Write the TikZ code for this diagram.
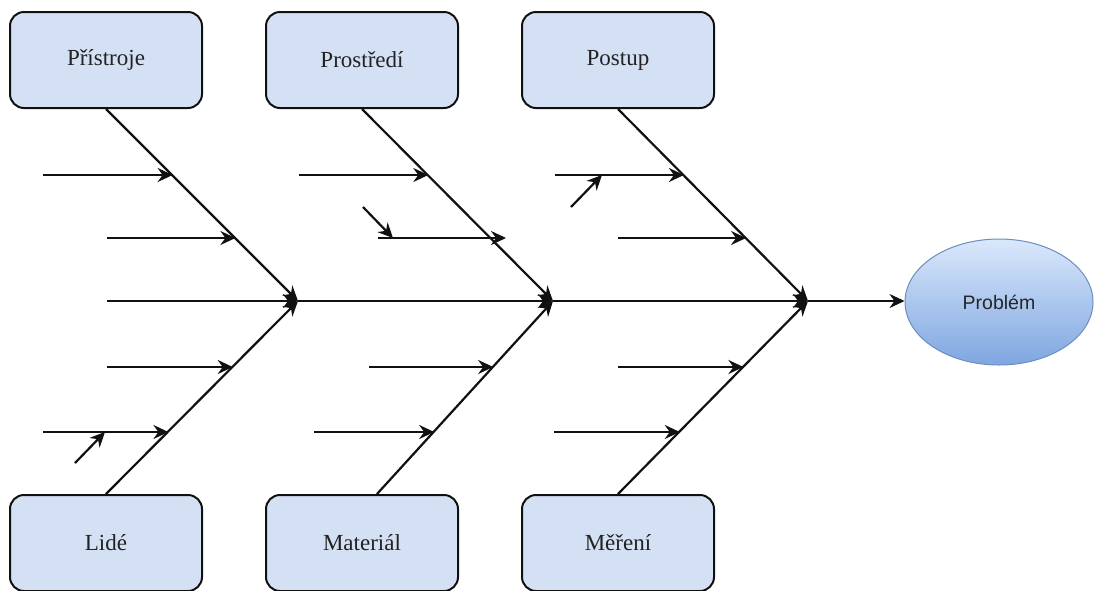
\documentclass[tikz,border=0pt]{standalone}
\usepackage{fontspec}
\setmainfont{Liberation Serif}
\newfontfamily\probfont{Liberation Sans}
\usetikzlibrary{arrows.meta,shapes.geometric,calc}
\definecolor{boxfill}{HTML}{D4E1F5}
\definecolor{ellstroke}{HTML}{6C8EBF}
\definecolor{elltop}{HTML}{DAE8FC}
\definecolor{ellbot}{HTML}{7EA6E0}
\definecolor{inkline}{HTML}{111111}
\definecolor{txt}{HTML}{222222}
\begin{document}
\begin{tikzpicture}[x=1pt,y=-1pt,
  >={Stealth[length=15pt,width=14pt,inset=5pt]},
  cause/.style={draw=inkline, line width=2pt, fill=boxfill, rounded corners=14pt,
    minimum width=192pt, minimum height=96pt, inner sep=0pt,
    font=\fontsize{23}{26}\selectfont, text=txt},
  problem/.style={ellipse, draw=ellstroke, line width=1pt, top color=elltop,
    bottom color=ellbot, minimum width=188pt, minimum height=126pt, inner sep=0pt,
    font=\probfont\fontsize{19.5}{22}\selectfont, text=black!85},
  bone/.style={draw=inkline, line width=2.2pt, ->},
  rib/.style={draw=inkline, line width=2.2pt, ->},
  twig/.style={draw=inkline, line width=2.2pt, ->}]
\useasboundingbox (0,0) rectangle (1094,590);

% category boxes
\node[cause] (pri) at (106,60) {Přístroje};
\node[cause] (pro) at (362,60) {Prostředí};
\node[cause] (pos) at (618,60) {Postup};
\node[cause] (lid) at (106,543) {Lidé};
\node[cause] (mat) at (362,543) {Materiál};
\node[cause] (mer) at (618,543) {Měření};

% effect
\node[problem] (prob) at (999,302) {Problém};

% spine junctions
\coordinate (S0) at (107,301);
\coordinate (J1) at (298,301);
\coordinate (J2) at (553,301);
\coordinate (J3) at (808,301);

% spine
\draw[bone] (S0) -- (J1);
\draw[bone] (J1) -- (J2);
\draw[bone] (J2) -- (J3);
\draw[bone] (J3) -- (J3 -| prob.west);

% main bones
\draw[bone] (pri.south) -- (J1);
\draw[bone] (lid.north) -- (J1);
\draw[bone] (pro.south) -- (J2);
\draw[bone] ([xshift=15pt]mat.north) -- (J2);
\draw[bone] (pos.south) -- (J3);
\draw[bone] (mer.north) -- (J3);

% points on the bones where ribs meet them
\coordinate (b1a) at ($(pri.south)!0.347!(J1)$);
\coordinate (b1b) at ($(pri.south)!0.674!(J1)$);
\coordinate (b1c) at ($(lid.north)!0.66!(J1)$);
\coordinate (b1d) at ($(lid.north)!0.325!(J1)$);
\coordinate (b2a) at ($(pro.south)!0.347!(J2)$);
\coordinate (b2b) at (506,238);
\coordinate (b2c) at ($([xshift=15pt]mat.north)!0.66!(J2)$);
\coordinate (b2d) at ($([xshift=15pt]mat.north)!0.325!(J2)$);
\coordinate (b3a) at ($(pos.south)!0.347!(J3)$);
\coordinate (b3b) at ($(pos.south)!0.674!(J3)$);
\coordinate (b3c) at ($(mer.north)!0.66!(J3)$);
\coordinate (b3d) at ($(mer.north)!0.325!(J3)$);

% rib starts
\coordinate (r1a) at (43,175);
\coordinate (r1b) at (107,238);
\coordinate (r1c) at (107,367);
\coordinate (r1d) at (43,432);
\coordinate (r2a) at (299,175);
\coordinate (r2b) at (378,238);
\coordinate (r2c) at (369,367);
\coordinate (r2d) at (314,432);
\coordinate (r3a) at (555,175);
\coordinate (r3b) at (618,238);
\coordinate (r3c) at (618,367);
\coordinate (r3d) at (554,432);

% ribs
\foreach \k in {1a,1b,1c,1d,2a,2c,2d,3a,3b,3c,3d}
  \draw[rib] (r\k) -- (r\k -| b\k);
\draw[rib] (r2b) -- (b2b);

% sub-causes
\coordinate (t1s) at (75,463);
\coordinate (t1e) at (105,432);
\coordinate (t2s) at (363,207);
\coordinate (t2e) at (393,238);
\coordinate (t3s) at (571,207);
\coordinate (t3e) at (602,175);
\draw[twig] (t1s) -- (t1e);
\draw[twig] (t2s) -- (t2e);
\draw[twig] (t3s) -- (t3e);
\end{tikzpicture}
\end{document}
